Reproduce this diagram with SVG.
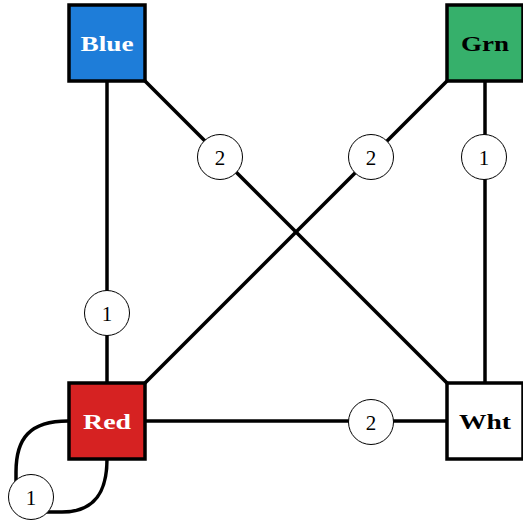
<svg xmlns="http://www.w3.org/2000/svg" width="523" height="523" viewBox="0 0 523 523">
<style>
.edge{fill:none;stroke:#000;stroke-width:3.5;stroke-linecap:butt}
.box{stroke:#000;stroke-width:3.5}
.nt{font-family:"Liberation Serif","DejaVu Serif",serif;font-weight:bold;font-size:22px;text-anchor:middle}
.lab circle{fill:#fff;stroke:#000;stroke-width:1}
.lab text{font-family:"Liberation Serif","DejaVu Serif",serif;font-size:21px;text-anchor:middle;fill:#000}
</style>
<rect width="523" height="523" fill="#fff"/>
<g id="connectors">
<line class="edge" x1="107" y1="43" x2="485" y2="421"/>
<line class="edge" x1="485" y1="43" x2="107" y2="421"/>
<line class="edge" x1="107" y1="43" x2="107" y2="421"/>
<line class="edge" x1="485" y1="43" x2="485" y2="421"/>
<line class="edge" x1="107" y1="421" x2="485" y2="421"/>
<path class="edge" d="M68,421 C30,421 16,438 16,472 L16,490 C16,505 25,512 40,512 L62,512 C95,512 107,492 107,459"/>
</g>
<g id="labels">
<g class="lab"><circle cx="220" cy="157" r="22.5"/><text x="220" y="164.5">2</text></g>
<g class="lab"><circle cx="371" cy="157" r="22.5"/><text x="371" y="164.5">2</text></g>
<g class="lab"><circle cx="484" cy="157" r="22.5"/><text x="484" y="164.5">1</text></g>
<g class="lab"><circle cx="107" cy="313" r="22.5"/><text x="107" y="320.5">1</text></g>
<g class="lab"><circle cx="371" cy="422" r="22.5"/><text x="371" y="429.5">2</text></g>
<g class="lab"><circle cx="31" cy="497" r="22.5"/><text x="31" y="504.5">1</text></g>
</g>
<g id="node-blue"><rect class="box" x="69" y="5" width="76" height="76" fill="#1e7dd9"/><text class="nt" x="107" y="51" fill="#fff" textLength="53" lengthAdjust="spacingAndGlyphs">Blue</text></g>
<g id="node-grn"><rect class="box" x="447" y="5" width="76" height="76" fill="#36b06b"/><text class="nt" x="485" y="51" fill="#000" textLength="48" lengthAdjust="spacingAndGlyphs">Grn</text></g>
<g id="node-red"><rect class="box" x="69" y="383" width="76" height="76" fill="#d62222"/><text class="nt" x="107" y="429" fill="#fff" textLength="48" lengthAdjust="spacingAndGlyphs">Red</text></g>
<g id="node-wht"><rect class="box" x="447" y="383" width="76" height="76" fill="#fff"/><text class="nt" x="485" y="429" fill="#000" textLength="52" lengthAdjust="spacingAndGlyphs">Wht</text></g>
</svg>
